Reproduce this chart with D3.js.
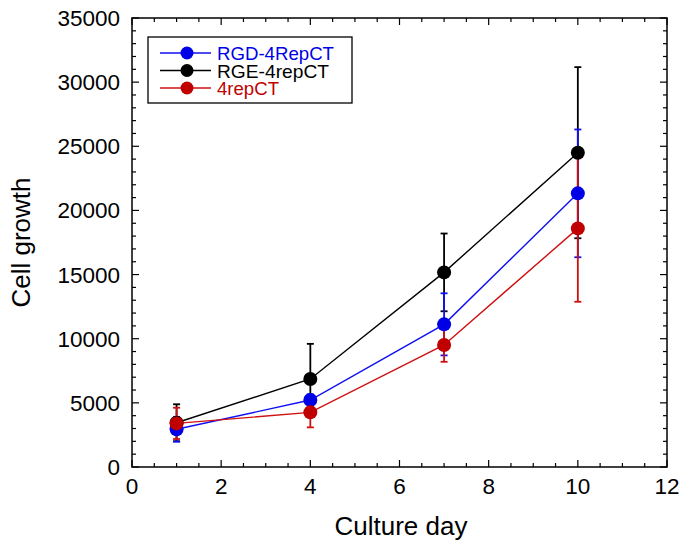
<!DOCTYPE html>
<html><head><meta charset="utf-8">
<script src="https://cdn.jsdelivr.net/npm/d3@7"></script>
<style>body{margin:0;background:#fff;} text{font-family:"Liberation Sans",Arial,sans-serif;}</style>
</head><body><svg id="c" width="684" height="552"></svg>
<script>
const days = [1, 4, 7, 10];
const seriesNames = ["RGD-4RepCT", "RGE-4repCT", "4repCT"];
const rgdValues = [2940, 5220, 11120, 21330];
const rgdErrors = [970, 450, 2420, 4980];
const rgeValues = [3450, 6860, 15170, 24500];
const rgeErrors = [1440, 2740, 3030, 6670];
const repValues = [3400, 4260, 9510, 18600];
const repErrors = [1220, 1170, 1310, 5720];
const xTicks = [0, 2, 4, 6, 8, 10, 12];
const yTicks = [0, 5000, 10000, 15000, 20000, 25000, 30000, 35000];
const colors = ["#1010f0", "#000000", "#d01010"];
const markerColors = ["#0000e6", "#000000", "#c00000"];

const svg = d3.select("#c");
const L = 132, R = 667, T = 18, B = 467;
const x = d3.scaleLinear().domain([0, 12]).range([L, R]);
const y = d3.scaleLinear().domain([0, 35000]).range([B, T]);

// frame
svg.append("rect").attr("x", L).attr("y", T).attr("width", R - L).attr("height", B - T)
  .attr("fill", "none").attr("stroke", "#000").attr("stroke-width", 1.5);

// ticks (inward, all four sides)
const g = svg.append("g").attr("stroke", "#000").attr("stroke-width", 1.2);
d3.range(0, 12.01, 0.5).forEach(v => {
  const major = Math.abs(v % 2) < 1e-9;
  const len = major ? 7 : 4;
  g.append("line").attr("x1", x(v)).attr("x2", x(v)).attr("y1", B).attr("y2", B - len);
  g.append("line").attr("x1", x(v)).attr("x2", x(v)).attr("y1", T).attr("y2", T + len);
});
d3.range(0, 35001, 1000).forEach(v => {
  const major = v % 5000 === 0;
  const len = major ? 7 : 4;
  g.append("line").attr("y1", y(v)).attr("y2", y(v)).attr("x1", L).attr("x2", L + len);
  g.append("line").attr("y1", y(v)).attr("y2", y(v)).attr("x1", R).attr("x2", R - len);
});

// tick labels
svg.append("g").selectAll("text").data(xTicks).join("text")
  .attr("x", d => x(d)).attr("y", 494).attr("text-anchor", "middle")
  .attr("font-size", 22.5).text(d => d);
svg.append("g").selectAll("text").data(yTicks).join("text")
  .attr("x", 120).attr("y", d => y(d) + 8).attr("text-anchor", "end")
  .attr("font-size", 22.5).text(d => d);

// axis titles
svg.append("text").attr("x", 401).attr("y", 535).attr("text-anchor", "middle")
  .attr("font-size", 26).text("Culture day");
svg.append("text").attr("transform", `translate(30,${(T + B) / 2}) rotate(-90)`)
  .attr("text-anchor", "middle").attr("font-size", 26).text("Cell growth");

const series = [
  {vals: rgdValues, errs: rgdErrors, c: colors[0], m: markerColors[0]},
  {vals: rgeValues, errs: rgeErrors, c: colors[1], m: markerColors[1]},
  {vals: repValues, errs: repErrors, c: colors[2], m: markerColors[2]}
];
const drawOrder = [1, 0, 2];
const line = d3.line().x(d => x(d[0])).y(d => y(d[1]));

drawOrder.forEach(i => {
  const s = series[i];
  const eg = svg.append("g").attr("stroke", s.c).attr("stroke-width", 1.8);
  days.forEach((d, j) => {
    const hi = s.vals[j] + s.errs[j], lo = s.vals[j] - s.errs[j];
    eg.append("line").attr("x1", x(d)).attr("x2", x(d)).attr("y1", y(hi)).attr("y2", y(lo));
    eg.append("line").attr("x1", x(d) - 3.5).attr("x2", x(d) + 3.5).attr("y1", y(hi)).attr("y2", y(hi));
    eg.append("line").attr("x1", x(d) - 3.5).attr("x2", x(d) + 3.5).attr("y1", y(lo)).attr("y2", y(lo));
  });
  svg.append("path").datum(days.map((d, j) => [d, s.vals[j]]))
    .attr("d", line).attr("fill", "none").attr("stroke", s.c).attr("stroke-width", 1.4);
});
drawOrder.forEach(i => {
  const s = series[i];
  svg.append("g").selectAll("circle").data(days).join("circle")
    .attr("cx", d => x(d)).attr("cy", (d, j) => y(s.vals[j])).attr("r", 7)
    .attr("fill", s.m);
});

// legend
const legendWidths = [117, 112, 62];
svg.append("rect").attr("x", 148).attr("y", 37).attr("width", 204).attr("height", 66)
  .attr("fill", "#fff").attr("stroke", "#000").attr("stroke-width", 1.3);
seriesNames.forEach((name, i) => {
  const ly = 53 + i * 17.5;
  svg.append("line").attr("x1", 160).attr("x2", 211).attr("y1", ly).attr("y2", ly)
    .attr("stroke", colors[i]).attr("stroke-width", 1.6);
  svg.append("circle").attr("cx", 187).attr("cy", ly).attr("r", 6.5).attr("fill", markerColors[i]);
  svg.append("text").attr("x", 217).attr("y", ly + 6).attr("font-size", 15)
    .attr("textLength", legendWidths[i]).attr("lengthAdjust", "spacingAndGlyphs")
    .attr("transform", `translate(0,${ly}) scale(1,1.18) translate(0,${-ly})`)
    .attr("fill", i === 1 ? "#000" : markerColors[i]).text(name);
});
</script></body></html>
